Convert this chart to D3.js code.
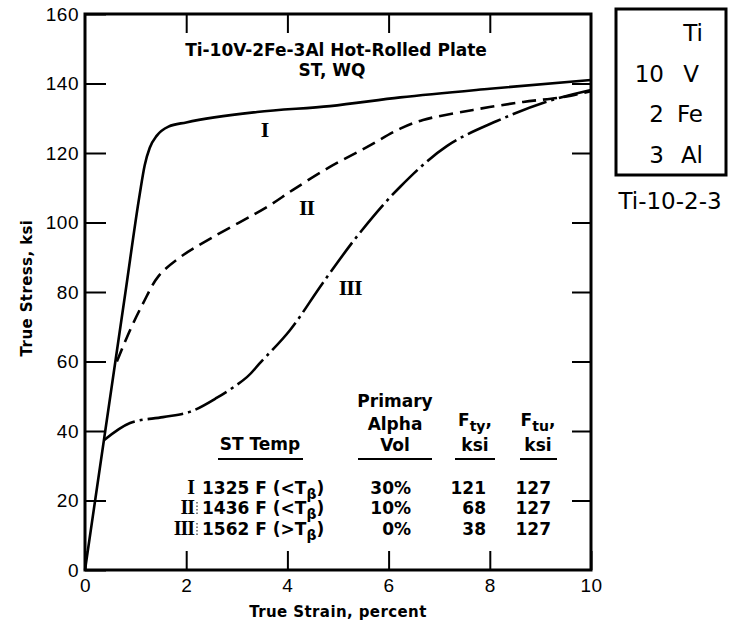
<!DOCTYPE html>
<html>
<head>
<meta charset="utf-8">
<script src="https://cdn.jsdelivr.net/npm/d3@7"></script>
<style>
body{margin:0;background:#fff;}
svg{font-family:"DejaVu Sans","Liberation Sans",Arial,sans-serif;}
.tick text{font-size:19px;fill:#000;letter-spacing:0.5px;}
.label{font-size:15px;font-weight:bold;letter-spacing:0.4px;}
.title{font-size:17px;font-weight:bold;}
.roman{font-family:"Liberation Serif","DejaVu Serif",serif;font-weight:bold;}
.tbl{font-size:17px;font-weight:bold;}
.elem{font-size:23px;}
</style>
</head>
<body>
<svg id="chart" width="744" height="627"></svg>
<script>
// curve I  (solid)
var strainI = [0,0.4,0.8,1.08,1.18,1.28,1.42,1.65,2.0,3.4,4.84,6.23,8,10]
var stressI = [0,40,80,108,116.5,121.5,125,127.6,128.8,131.8,133.5,136,138.5,141]
// curve II (dashed)
var strainII = [0.63,0.89,1.15,1.45,1.88,2.53,3.6,4.11,4.84,5.57,6.23,6.68,7.67,8.66,9.45,10]
var stressII = [60,69,76.8,84.5,90,95.8,104.5,109.4,116,121.7,127,129.5,132.4,134.7,136.1,137.8]
// curve III (dash dot)
var strainIII = [0.38,0.89,1.54,2.07,2.6,3.2,3.46,4.05,4.7,5.43,6.23,7.15,8.14,9.13,10]
var stressIII = [37.4,42.3,44,45.5,49.5,55.5,59.6,69,82.6,97,110.3,122,129.2,134.8,138.1]

var xTicks = [0,2,4,6,8,10]
var yTicks = [0,20,40,60,80,100,120,140,160]

// table
var romans = ["I","II","III"]
var stTemps = ["1325 F (<T","1436 F (<T","1562 F (>T"]
var alphaVol = ["30%","10%","0%"]
var fty = ["121","68","38"]
var ftu = ["127","127","127"]

// composition box
var amounts = ["","10","2","3"]
var elements = ["Ti","V","Fe","Al"]

var margins = {left:85,right:153,top:14,bottom:57}
var screen = {width:744,height:627}
var graph = {
    width:screen.width-margins.left-margins.right,
    height:screen.height-margins.top-margins.bottom
}

var xScale = d3.scaleLinear().domain([0,10]).range([0,graph.width])
var yScale = d3.scaleLinear().domain([0,160]).range([graph.height,0])

var svg = d3.select("#chart")
var plot = svg.append("g")
    .attr("transform","translate("+margins.left+","+margins.top+")")

var makePts = function(xs,ys){
    return xs.map(function(x,i){return {x:x,y:ys[i]}})
}

var drawCurve = function(pts,dash,curve){
    var lineGen = d3.line()
        .x(function(d){return xScale(d.x)})
        .y(function(d){return yScale(d.y)})
        .curve(curve)
    plot.append("path")
        .datum(pts)
        .attr("d",lineGen)
        .attr("fill","none")
        .attr("stroke","#000")
        .attr("stroke-width",2.6)
        .attr("stroke-dasharray",dash)
}
drawCurve(makePts(strainI,stressI),null,d3.curveMonotoneX)
drawCurve(makePts(strainII,stressII),"14,7",d3.curveCatmullRom.alpha(0.5))
drawCurve(makePts(strainIII,stressIII),"36,5,3,5",d3.curveCatmullRom.alpha(0.5))

// axes, ticks point inward
var yAxis = d3.axisLeft(yScale).tickValues(yTicks).tickSize(-21).tickPadding(6)
var yAxisR = d3.axisRight(yScale).tickValues(yTicks.slice(1,-1)).tickSize(-19).tickFormat("")
var xAxis = d3.axisBottom(xScale).tickValues(xTicks).tickSize(-19).tickPadding(9)
    .tickFormat(function(d){return d})
var xAxisT = d3.axisTop(xScale).tickValues(xTicks.slice(1,-1)).tickSize(-19).tickFormat("")

var axes = plot.append("g")
axes.append("g").call(yAxis)
axes.append("g").attr("transform","translate("+graph.width+",0)").call(yAxisR)
axes.append("g").attr("transform","translate(0,"+graph.height+")").call(xAxis)
axes.append("g").call(xAxisT)
axes.selectAll(".domain").remove()
axes.selectAll(".tick line").attr("stroke","#000").attr("stroke-width",2)
axes.selectAll(".tick text").attr("font-family",null).attr("font-size",null)
plot.append("rect")
    .attr("width",graph.width).attr("height",graph.height)
    .attr("fill","none").attr("stroke","#000").attr("stroke-width",3)

// axis labels
svg.append("text").text("True Strain, percent").classed("label",true)
    .attr("text-anchor","middle").attr("x",338).attr("y",617)
svg.append("g").attr("transform","translate(32,288)")
    .append("text").text("True Stress, ksi").classed("label",true)
    .attr("text-anchor","middle").attr("transform","rotate(-90)")

// title
svg.append("text").text("Ti-10V-2Fe-3Al Hot-Rolled Plate").classed("title",true)
    .attr("text-anchor","middle").attr("x",336).attr("y",56)
svg.append("text").text("ST, WQ").classed("title",true)
    .attr("text-anchor","middle").attr("x",332).attr("y",76)

// curve labels
var curveLbl = [{t:"I",x:3.55,y:124.6},{t:"II",x:4.38,y:102.2},{t:"III",x:5.24,y:79.1}]
plot.selectAll(".clbl").data(curveLbl).enter().append("text")
    .attr("class","roman").attr("font-size",22).attr("letter-spacing",-1)
    .attr("text-anchor","middle")
    .attr("x",function(d){return xScale(d.x)})
    .attr("y",function(d){return yScale(d.y)})
    .text(function(d){return d.t})

// table
var tbl = svg.append("g")
var hdr = function(txt,x,y){
    tbl.append("text").text(txt).classed("tbl",true).attr("text-anchor","middle")
        .attr("x",x).attr("y",y)
}
hdr("Primary",395,407); hdr("Alpha",395,430); hdr("Vol",395,451); hdr("ST Temp",260,450)
var fhdr = function(sub,x){
    var t = tbl.append("text").classed("tbl",true).attr("text-anchor","middle").attr("x",x).attr("y",426)
    t.append("tspan").text("F")
    t.append("tspan").text(sub).attr("font-size",14).attr("dy",5)
    t.append("tspan").text(",").attr("dy",-5)
    hdr("ksi",x,451)
}
fhdr("ty",475); fhdr("tu",538)
var underlines = [[218,303],[358,432],[455,495],[520,557]]
tbl.selectAll(".ul").data(underlines).enter().append("line")
    .attr("x1",function(d){return d[0]}).attr("x2",function(d){return d[1]})
    .attr("y1",459).attr("y2",459).attr("stroke","#000").attr("stroke-width",2)

var rowY = [494,514,535]
romans.forEach(function(r,i){
    tbl.append("text").attr("class","roman").attr("font-size",20).attr("letter-spacing",-1)
        .attr("text-anchor","end").attr("x",194).attr("y",rowY[i]).text(r)
    if(i>0){
        tbl.append("line").attr("x1",197).attr("x2",197)
            .attr("y1",rowY[i]-12).attr("y2",rowY[i]+1)
            .attr("stroke","#000").attr("stroke-width",1).attr("stroke-dasharray","1.5,2")
    }
    var t = tbl.append("text").classed("tbl",true).attr("x",202).attr("y",rowY[i])
    t.append("tspan").text(stTemps[i])
    t.append("tspan").text("\u03b2").attr("font-size",14).attr("dy",5)
    t.append("tspan").text(")").attr("dy",-5)
    tbl.append("text").classed("tbl",true).attr("text-anchor","end").attr("x",411).attr("y",rowY[i]).text(alphaVol[i])
    tbl.append("text").classed("tbl",true).attr("text-anchor","end").attr("x",486).attr("y",rowY[i]).text(fty[i])
    tbl.append("text").classed("tbl",true).attr("text-anchor","end").attr("x",551).attr("y",rowY[i]).text(ftu[i])
})

// composition box
var box = svg.append("g")
box.append("rect").attr("x",616).attr("y",9).attr("width",110).attr("height",166)
    .attr("fill","none").attr("stroke","#000").attr("stroke-width",3)
var boxY = [41,82,122,163]
elements.forEach(function(e,i){
    box.append("text").classed("elem",true).attr("text-anchor","end").attr("x",664).attr("y",boxY[i]).text(amounts[i])
    box.append("text").classed("elem",true).attr("text-anchor","end").attr("x",i==1?699:703).attr("y",boxY[i]).text(e)
})
box.append("text").classed("elem",true).attr("font-size",24).attr("text-anchor","middle").attr("x",670).attr("y",209).text("Ti-10-2-3")
</script>
</body>
</html>
